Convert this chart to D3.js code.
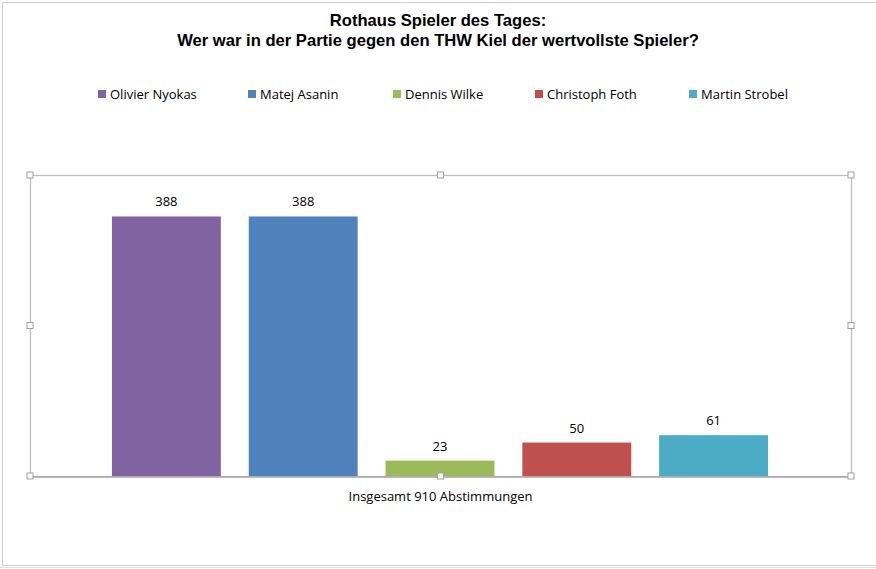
<!DOCTYPE html>
<html><head><meta charset="utf-8">
<script src="https://cdn.jsdelivr.net/npm/d3@7"></script>
<style>
html,body{margin:0;padding:0;background:#fff;}
svg{display:block;}
</style></head>
<body>
<svg id="c" width="876" height="569"></svg>
<script>
const titleLines = ["Rothaus Spieler des Tages:", "Wer war in der Partie gegen den THW Kiel der wertvollste Spieler?"];
const players = ["Olivier Nyokas", "Matej Asanin", "Dennis Wilke", "Christoph Foth", "Martin Strobel"];
const votes = [388, 388, 23, 50, 61];
const colors = ["#8064a2", "#4f81bd", "#9bbb59", "#c0504d", "#4bacc6"];
const categoryLabel = "Insgesamt 910 Abstimmungen";
const yMax = 450;

const svg = d3.select("#c");
const W = 876, H = 569;
const plot = {x0: 30, x1: 851, y0: 175, y1: 476};
const bodyFont = "'Open Sans', 'Noto Sans', sans-serif";

// outer chart frame
svg.append("rect").attr("x", 2.5).attr("y", 2.5).attr("width", W + 10).attr("height", 563)
  .attr("fill", "none").attr("stroke", "#d0d0d0").attr("stroke-width", 1);
svg.append("line").attr("x1", 0).attr("x2", W).attr("y1", 567.5).attr("y2", 567.5)
  .attr("stroke", "#e0e0e0");

// title
svg.append("text").attr("x", 438).attr("text-anchor", "middle")
  .attr("font-family", "'Liberation Sans', Arial, sans-serif").attr("font-weight", "bold")
  .attr("font-size", 16.6).attr("fill", "#000")
  .selectAll("tspan").data(titleLines).join("tspan")
  .attr("x", 438).attr("y", (d, i) => 26 + i * 20).text(d => d);

// legend
const legendX = [98, 248, 393, 535, 689];
const lg = svg.append("g").selectAll("g").data(players).join("g")
  .attr("transform", (d, i) => `translate(${legendX[i]},90)`);
lg.append("rect").attr("width", 8).attr("height", 8).attr("fill", (d, i) => colors[i]);
lg.append("text").attr("x", 12).attr("y", 9).attr("font-family", bodyFont)
  .attr("font-size", 13).attr("fill", "#000").text(d => d);

// scales
const x = d3.scaleBand().domain(players).range([98, 782]).paddingInner(0.204).paddingOuter(0.102);
const y = d3.scaleLinear().domain([0, yMax]).range([plot.y1, plot.y0]);

// plot area frame
svg.append("rect").attr("x", plot.x0 + 0.5).attr("y", plot.y0 + 0.5)
  .attr("width", plot.x1 - plot.x0).attr("height", plot.y1 - plot.y0)
  .attr("fill", "none").attr("stroke", "#bfbfbf").attr("stroke-width", 1.3);

// bars
svg.append("g").selectAll("rect").data(votes).join("rect")
  .attr("x", (d, i) => x(players[i])).attr("width", x.bandwidth())
  .attr("y", d => y(d)).attr("height", d => y(0) - y(d))
  .attr("fill", (d, i) => colors[i]);

// axis line (category axis)
const xAxis = d3.axisBottom(d3.scaleLinear().domain([0, 1]).range([plot.x0, plot.x1])).ticks(0).tickSize(0).tickFormat("");
svg.append("g").attr("transform", `translate(0.5,${plot.y1 + 0.5})`).call(xAxis)
  .call(g => g.select(".domain").attr("stroke", "#a6a6a6").attr("stroke-width", 1.3));

// data labels
svg.append("g").selectAll("text").data(votes).join("text")
  .attr("x", (d, i) => x(players[i]) + x.bandwidth() / 2).attr("y", d => y(d) - 10)
  .attr("text-anchor", "middle").attr("font-family", bodyFont).attr("font-size", 13)
  .attr("fill", "#000").text(d => d);

// category label
svg.append("text").attr("x", (plot.x0 + plot.x1) / 2).attr("y", 501).attr("text-anchor", "middle")
  .attr("font-family", bodyFont).attr("font-size", 13).attr("fill", "#000").text(categoryLabel);

// selection handles
const hx = [plot.x0, (plot.x0 + plot.x1) / 2, plot.x1];
const hy = [plot.y0, (plot.y0 + plot.y1) / 2, plot.y1];
const handles = [];
hx.forEach((a, i) => hy.forEach((b, j) => { if (!(i === 1 && j === 1)) handles.push([a, b]); }));
svg.append("g").selectAll("rect").data(handles).join("rect")
  .attr("x", d => d[0] - 3).attr("y", d => d[1] - 3).attr("width", 6).attr("height", 6)
  .attr("fill", "#fff").attr("stroke", "#a0a0a0").attr("stroke-width", 1);
</script>
</body></html>
